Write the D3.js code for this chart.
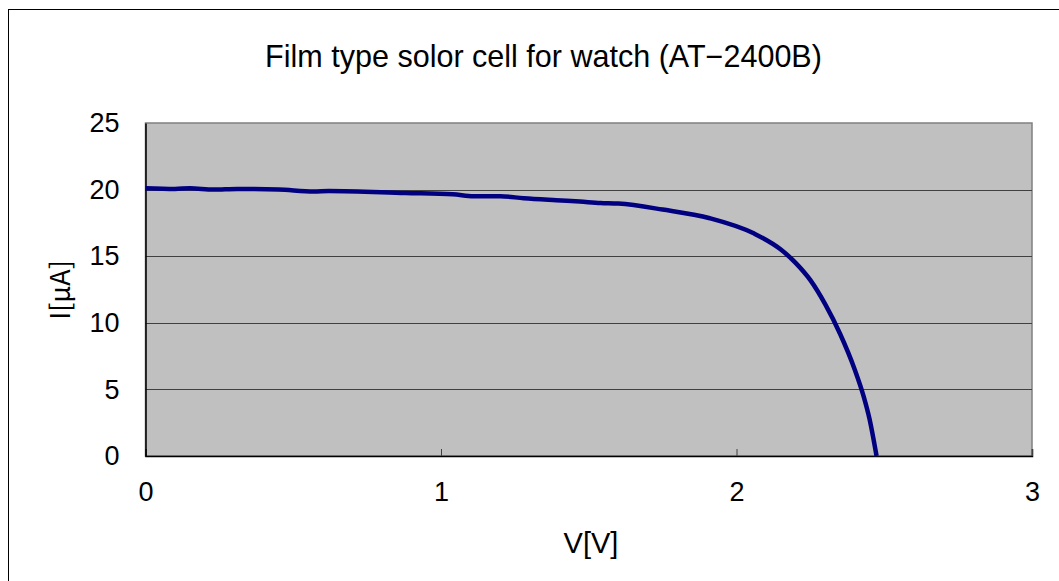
<!DOCTYPE html>
<html>
<head>
<meta charset="utf-8">
<script src="https://cdn.jsdelivr.net/npm/d3@7"></script>
<style>
  body { margin: 0; background: #fff; }
  text { font-family: "Liberation Sans", Arial, sans-serif; fill: #000; }
</style>
</head>
<body>
<svg id="chart" width="1059" height="581"></svg>
<script>
// values
const voltage = [0, 0.1, 0.15, 0.23, 0.31, 0.45, 0.57, 0.62, 0.88, 1.04, 1.11, 1.2, 1.28, 1.39, 1.47, 1.54, 1.6, 1.75, 1.91, 2.06, 2.15, 2.2, 2.25, 2.3, 2.35, 2.4, 2.43, 2.45, 2.474];
const current = [20.1, 20.05, 20.1, 20.0, 20.05, 20.0, 19.85, 19.9, 19.75, 19.65, 19.5, 19.5, 19.35, 19.2, 19.1, 19.0, 18.95, 18.5, 17.85, 16.7, 15.5, 14.5, 13.2, 11.4, 9.2, 6.5, 4.5, 2.8, 0];
const xTicks = [0, 1, 2, 3];
const yTicks = [0, 5, 10, 15, 20, 25];

const svg = d3.select("#chart");
const plotLeft = 145.5, plotRight = 1032, plotTop = 123, plotBottom = 456;

// outer chart frame (only top and left visible)
svg.append("rect")
  .attr("x", 8.5).attr("y", 9.5)
  .attr("width", 1100).attr("height", 700)
  .attr("fill", "none").attr("stroke", "#000").attr("stroke-width", 1);

const title = svg.append("text")
  .attr("x", 543.5).attr("y", 67)
  .attr("text-anchor", "middle")
  .style("font-size", "26px")
  .text("Film type solor cell for watch (AT−2400B)");
// scale the title so it spans the same width as the original
const tw = title.node().getComputedTextLength();
title.style("font-size", (26 * 557 / tw).toFixed(2) + "px");

const x = d3.scaleLinear().domain([0, 3]).range([plotLeft, plotRight]);
const y = d3.scaleLinear().domain([0, 25]).range([plotBottom, plotTop]);

svg.append("rect")
  .attr("x", plotLeft).attr("y", plotTop)
  .attr("width", plotRight - plotLeft).attr("height", plotBottom - plotTop)
  .attr("fill", "#c0c0c0").attr("stroke", "#808080").attr("stroke-width", 1.5);

// gridlines
svg.append("g")
  .selectAll("line")
  .data(yTicks.filter(d => d > 0 && d < 25))
  .enter()
  .append("line")
  .attr("x1", plotLeft).attr("x2", plotRight)
  .attr("y1", d => Math.round(y(d)) + 0.5)
  .attr("y2", d => Math.round(y(d)) + 0.5)
  .attr("stroke", "#404040").attr("stroke-width", 1);

// axes
const xAxis = svg.append("g")
  .attr("transform", `translate(0,${plotBottom})`)
  .call(d3.axisBottom(x).tickValues(xTicks).tickSize(-7).tickPadding(0).tickFormat(d3.format("d")));
xAxis.select(".domain").attr("stroke", "#000").attr("stroke-width", 1.5);
xAxis.selectAll(".tick line").attr("stroke", "#404040");
xAxis.selectAll(".tick text")
  .attr("y", 45).attr("dy", null)
  .style("font-size", "27px").attr("font-family", null);

const yAxis = svg.append("g")
  .attr("transform", `translate(${plotLeft},0)`)
  .call(d3.axisLeft(y).tickValues(yTicks).tickSize(0).tickPadding(26).tickFormat(d3.format("d")));
yAxis.select(".domain").attr("stroke", "#000").attr("stroke-width", 1.5);
yAxis.selectAll(".tick text").style("font-size", "27px").attr("font-family", null);

const points = voltage.map((v, i) => [v, current[i]]);
const line = d3.line()
  .x(d => x(d[0]))
  .y(d => y(d[1]))
  .curve(d3.curveMonotoneX);

svg.append("path")
  .datum(points)
  .attr("d", line)
  .attr("fill", "none")
  .attr("stroke", "#000080")
  .attr("stroke-width", 4.5);

svg.append("text")
  .attr("x", 591).attr("y", 553)
  .attr("text-anchor", "middle")
  .style("font-size", "29px")
  .text("V[V]");

svg.append("text")
  .attr("transform", "translate(70,290) rotate(-90)")
  .attr("text-anchor", "middle")
  .style("font-family", "'Noto Sans CJK JP', sans-serif")
  .style("font-size", "27px")
  .text("I[μA]");
</script>
</body>
</html>
